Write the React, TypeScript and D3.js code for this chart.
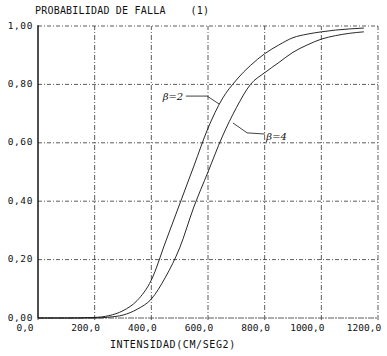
import React from "react";
import * as d3 from "d3";

// intensity (cm/s2) vs probability of failure
const intensity = [0, 100, 200, 250, 300, 350, 400, 450, 500, 550, 600, 650, 700, 750, 800, 850, 900, 950, 1000, 1050, 1100, 1150];
const probBeta2 = [0, 0, 0.002, 0.008, 0.025, 0.06, 0.13, 0.26, 0.39, 0.52, 0.65, 0.75, 0.815, 0.865, 0.905, 0.935, 0.96, 0.972, 0.98, 0.986, 0.99, 0.993];
const probBeta4 = [0, 0, 0, 0.003, 0.01, 0.03, 0.065, 0.14, 0.24, 0.38, 0.5, 0.62, 0.72, 0.8, 0.84, 0.875, 0.91, 0.935, 0.955, 0.967, 0.975, 0.98];

const xTicks = [0, 200, 400, 600, 800, 1000, 1200];
const yTicks = [0, 0.2, 0.4, 0.6, 0.8, 1.0];

// hand-drawn labels, in data units
const label2 = { text: "β=2", at: [440, 0.745], leader: [[522, 0.76], [597, 0.76], [639, 0.733]] };
const label4 = { text: "β=4", at: [806, 0.61], leader: [[688, 0.668], [738, 0.634], [801, 0.63]] };

const W = 387;
const H = 356;
const font = "'DejaVu Sans Mono', monospace";

const App = () => {
  const x = d3.scaleLinear().domain([0, 1200]).range([38, 378]);
  const y = d3.scaleLinear().domain([0, 1]).range([318, 26]);

  const line = d3.line<number>()
    .x((d, i) => x(intensity[i]))
    .y(d => y(d))
    .curve(d3.curveMonotoneX);

  const leader = d3.line<number[]>().x(d => x(d[0])).y(d => y(d[1]));

  const grid = "#333";
  return (
    <svg width={W} height={H} style={{ position: "absolute", left: 0, top: 0, background: "#fff" }}>
      {/* grid */}
      {yTicks.map(t => (
        <line key={"gy" + t} x1={x(0)} x2={x(1200)} y1={y(t)} y2={y(t)}
          stroke={grid} strokeWidth={0.8} strokeDasharray={t === 0 ? "6,1,2,1" : "4,2,1,2"} />
      ))}
      {xTicks.map(t => (
        <line key={"gx" + t} x1={x(t)} x2={x(t)} y1={y(0) + 2} y2={y(1)}
          stroke={grid} strokeWidth={0.8} strokeDasharray={t === 0 ? "none" : "5,2,1,2"} />
      ))}
      <line x1={x(0)} x2={x(0)} y1={y(0)} y2={y(1) - 1} stroke="#000" strokeWidth={1.1} />

      {/* curves */}
      <path d={line(probBeta2) || ""} fill="none" stroke="#111" strokeWidth={0.9} />
      <path d={line(probBeta4) || ""} fill="none" stroke="#111" strokeWidth={0.9} />

      {/* annotations */}
      {[label2, label4].map(l => (
        <g key={l.text}>
          <path d={leader(l.leader) || ""} fill="none" stroke="#111" strokeWidth={0.8} />
          <text x={x(l.at[0])} y={y(l.at[1])} fontFamily="'DejaVu Serif', serif" fontStyle="italic"
            fontSize={10} fill="#111">{l.text}</text>
        </g>
      ))}

      {/* tick labels */}
      {yTicks.map(t => (
        <text key={"ly" + t} x={33} y={y(t) + 2.5} textAnchor="end" fontFamily={font}
          fontSize={9.5} letterSpacing={0.6} fill="#111">{d3.format(".2f")(t).replace(".", ",")}</text>
      ))}
      {xTicks.map(t => {
        const s = d3.format(".1f")(t).replace(".", ",");
        const dx = s.length === 5 ? -9 : s.length === 6 ? -14 : -13;
        return (
          <text key={"lx" + t} x={x(t) + dx} y={331} textAnchor="middle" fontFamily={font}
            fontSize={9.5} fill="#111">{s}</text>
        );
      })}

      <text x={35} y={14} fontFamily={font} fontSize={10} letterSpacing={0.2} fill="#111"
        style={{ whiteSpace: "pre" }}>{"PROBABILIDAD DE FALLA    (1)"}</text>
      <text x={110} y={348} fontFamily={font} fontSize={10} letterSpacing={0.6} fill="#111">INTENSIDAD(CM/SEG2)</text>
    </svg>
  );
};

export default App;
